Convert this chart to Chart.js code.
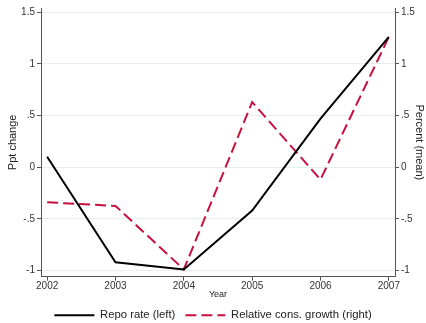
<!DOCTYPE html>
<html>
<head>
<meta charset="utf-8">
<script src="https://cdn.jsdelivr.net/npm/chart.js@4.4.1/dist/chart.umd.min.js"></script>
<style>
  html, body { margin: 0; padding: 0; background: #fff; }
  #wrap { width: 426px; height: 323px; }
</style>
</head>
<body>
<div id="wrap"><canvas id="chart" width="426" height="323"></canvas></div>
<script>
// data
const years = [2002, 2003, 2004, 2005, 2006, 2007];
const repoRate = [0.10, -0.92, -0.99, -0.42, 0.47, 1.26];
const consGrowth = [-0.34, -0.375, -0.99, 0.63, -0.12, 1.26];
const yTicks = [-1, -0.5, 0, 0.5, 1, 1.5];

const axisGrey = '#555555';
const gridCol = '#e6eff0';
const red = '#c8103e';
const font = 'Liberation Sans, Arial, sans-serif';

function fmt(v) {
    // Stata style: .5 instead of 0.5
    let s = String(v);
    return s.replace(/^0\./, '.').replace(/^-0\./, '-.');
}

function pts(vals) {
    return years.map((y, i) => ({ x: y, y: vals[i] }));
}

function yAxis(pos, title, width) {
    return {
        type: 'linear',
        position: pos,
        min: -1.06,
        max: 1.54,
        afterBuildTicks: s => { s.ticks = yTicks.map(v => ({ value: v })); },
        afterFit: s => { s.width = width; },
        border: { display: true, color: axisGrey, width: 1 },
        grid: {
            drawOnChartArea: pos === 'left',
            color: gridCol,
            lineWidth: 1,
            drawTicks: true,
            tickColor: axisGrey,
            tickLength: 4
        },
        ticks: {
            color: '#333',
            font: { family: font, size: 10 },
            padding: 2,
            callback: v => fmt(v)
        },
        title: {
            display: true,
            text: title,
            color: '#222',
            font: { family: font, size: 11 },
            padding: { top: pos === 'left' ? 6 : 0, bottom: 2 }
        }
    };
}

new Chart(document.getElementById('chart'), {
    type: 'line',
    data: {
        datasets: [{
            label: 'Repo rate (left)',
            data: pts(repoRate),
            yAxisID: 'yL',
            borderColor: '#000',
            backgroundColor: '#000',
            borderWidth: 2,
            pointRadius: 0,
            tension: 0
        }, {
            label: 'Relative cons. growth (right)',
            data: pts(consGrowth),
            yAxisID: 'yR',
            borderColor: red,
            backgroundColor: red,
            borderWidth: 2,
            borderDash: [11, 5],
            pointRadius: 0,
            tension: 0
        }]
    },
    options: {
        responsive: false,
        animation: false,
        layout: { padding: { top: -2, left: 0, right: 0, bottom: -8 } },
        scales: {
            x: {
                type: 'linear',
                min: 2001.91,
                max: 2007.09,
                afterBuildTicks: s => { s.ticks = years.map(v => ({ value: v })); },
                afterFit: s => { s.height = 23; },
                border: { display: true, color: axisGrey, width: 1 },
                grid: {
                    drawOnChartArea: false,
                    drawTicks: true,
                    tickColor: axisGrey,
                    tickLength: 4
                },
                ticks: {
                    color: '#333',
                    font: { family: font, size: 10 },
                    padding: 0,
                    maxRotation: 0,
                    callback: v => String(v)
                },
                title: {
                    display: true,
                    text: 'Year',
                    color: '#222',
                    font: { family: font, size: 9 },
                    padding: { top: 0, bottom: 0 }
                }
            },
            yL: yAxis('left', 'Ppt change', 41),
            yR: yAxis('right', 'Percent (mean)', 31)
        },
        plugins: {
            legend: {
                position: 'bottom',
                labels: {
                    color: '#222',
                    font: { family: font, size: 11.3 },
                    usePointStyle: true,
                    pointStyleWidth: 40,
                    boxHeight: 11,
                    padding: 10,
                    // line samples with the dataset's dash pattern
                    generateLabels: chart => {
                        const items = Chart.defaults.plugins.legend.labels.generateLabels(chart);
                        items.forEach(it => {
                            const ds = chart.data.datasets[it.datasetIndex];
                            it.pointStyle = 'line';
                            it.lineDash = ds.borderDash || [];
                            it.strokeStyle = ds.borderColor;
                            it.lineWidth = 2;
                        });
                        return items;
                    }
                }
            },
            tooltip: { enabled: false }
        }
    }
});
</script>
</body>
</html>
